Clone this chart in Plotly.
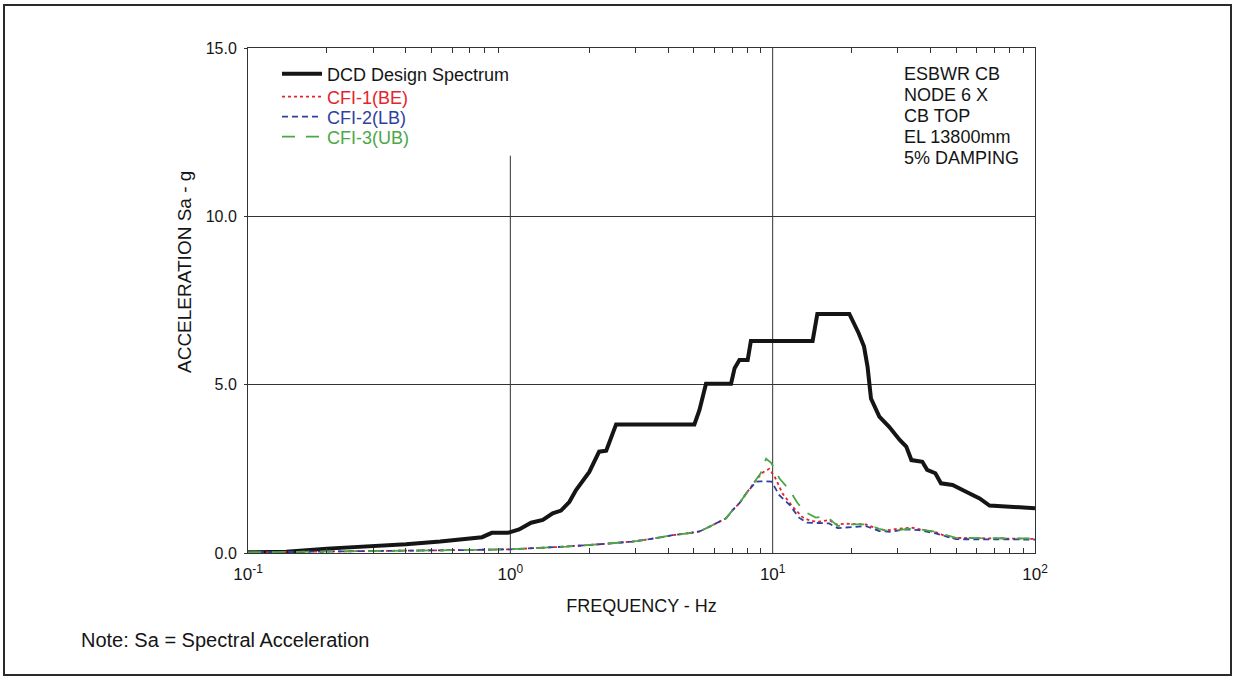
import plotly.graph_objects as go

# ---- Design spectrum (DCD) ----
dcd_freq = [0.1, 0.14, 0.2, 0.3, 0.4, 0.54, 0.66, 0.78, 0.85, 0.98, 1.08, 1.2, 1.33,
            1.45, 1.56, 1.68, 1.78, 1.89, 2.0, 2.18, 2.32, 2.53, 5.03, 5.26, 5.57,
            6.94, 7.16, 7.47, 8.03, 8.26, 14.2, 14.8, 19.6, 21.3, 22.3, 23.0, 23.5,
            23.7, 25.5, 27.8, 30.5, 32.3, 33.8, 37.2, 38.8, 41.7, 43.8, 48.5, 54.6,
            61.5, 67.1, 82.1, 100.0]
dcd_sa = [0.02, 0.04, 0.13, 0.19, 0.26, 0.34, 0.41, 0.47, 0.60, 0.60, 0.70, 0.90, 0.98,
          1.18, 1.26, 1.52, 1.87, 2.17, 2.41, 3.01, 3.04, 3.82, 3.82, 4.25, 5.03,
          5.03, 5.49, 5.73, 5.73, 6.30, 6.30, 7.10, 7.10, 6.52, 6.13, 5.53, 4.94,
          4.59, 4.05, 3.75, 3.36, 3.16, 2.76, 2.71, 2.47, 2.37, 2.07, 2.02, 1.82,
          1.62, 1.41, 1.38, 1.33]

# ---- CFI-1 (best estimate) ----
be_freq = [0.1, 0.2, 0.3, 0.5, 0.7, 1.0, 1.21, 1.63, 2.18, 2.92, 3.39, 3.92, 4.16, 4.8,
           5.26, 5.74, 6.64, 7.05, 7.47, 7.93, 8.65, 9.2, 9.7, 10.2, 10.9, 11.9, 13.0,
           14.0, 15.0, 16.4, 17.5, 19.0, 22.7, 25.5, 28.0, 30.0, 34.0, 38.0, 41.8,
           45.0, 48.0, 60.0, 80.0, 100.0]
be_sa = [0.02, 0.04, 0.05, 0.07, 0.09, 0.11, 0.14, 0.19, 0.26, 0.34, 0.41, 0.50, 0.53,
         0.59, 0.64, 0.78, 1.03, 1.28, 1.48, 1.77, 2.17, 2.40, 2.50, 2.25, 1.77, 1.38,
         1.06, 0.95, 0.93, 0.98, 0.85, 0.87, 0.85, 0.70, 0.68, 0.72, 0.75, 0.68, 0.62,
         0.52, 0.45, 0.44, 0.43, 0.42]

# ---- CFI-2 (lower bound) ----
lb_freq = [0.1, 0.2, 0.3, 0.5, 0.7, 1.0, 1.21, 1.63, 2.18, 2.92, 3.39, 3.92, 4.16, 4.8,
           5.26, 5.74, 6.64, 7.05, 7.47, 7.93, 8.65, 9.0, 9.9, 10.6, 11.6, 12.6, 13.5,
           16.4, 17.7, 20.0, 22.7, 25.5, 28.0, 32.0, 36.0, 41.8, 46.0, 50.0, 100.0]
lb_sa = [0.02, 0.04, 0.05, 0.07, 0.09, 0.11, 0.14, 0.19, 0.26, 0.34, 0.41, 0.50, 0.53,
         0.59, 0.64, 0.78, 1.03, 1.28, 1.48, 1.77, 2.12, 2.13, 2.12, 1.72, 1.43, 1.05,
         0.90, 0.88, 0.74, 0.77, 0.80, 0.65, 0.63, 0.70, 0.68, 0.58, 0.48, 0.41, 0.40]

# ---- CFI-3 (upper bound) ----
ub_freq = [0.1, 0.2, 0.3, 0.5, 0.7, 1.0, 1.21, 1.63, 2.18, 2.92, 3.39, 3.92, 4.16, 4.8,
           5.26, 5.74, 6.64, 7.05, 7.47, 7.93, 8.65, 9.0, 9.44, 9.87, 10.6, 11.6, 12.4,
           13.2, 14.6, 15.5, 16.4, 17.7, 19.0, 22.7, 25.5, 27.5, 30.0, 34.0, 38.0, 41.8,
           46.0, 50.0, 100.0]
ub_sa = [0.02, 0.04, 0.05, 0.07, 0.09, 0.11, 0.14, 0.19, 0.26, 0.34, 0.41, 0.50, 0.53,
         0.59, 0.64, 0.78, 1.03, 1.28, 1.48, 1.77, 2.17, 2.37, 2.80, 2.68, 2.22, 1.87,
         1.50, 1.23, 1.05, 1.08, 1.03, 0.80, 0.85, 0.85, 0.72, 0.65, 0.68, 0.73, 0.68,
         0.63, 0.53, 0.45, 0.43]

x_tick_vals = [0.1, 1, 10, 100]
x_tick_text = ["10<sup>-1</sup>", "10<sup>0</sup>", "10<sup>1</sup>", "10<sup>2</sup>"]
y_tick_vals = [0.0, 5.0, 10.0, 15.0]
info_lines = ["ESBWR CB", "NODE 6 X", "CB TOP", "EL 13800mm", "5% DAMPING"]

RED = "#e3242b"
BLUE = "#2f3fa0"
GREEN = "#4aa846"
INK = "#151515"
FONT = "Liberation Sans, Arial, sans-serif"

minor_vals = [k * 10 ** d for d in (-1, 0, 1) for k in range(2, 10)]

# plot area in pixels: x 248..1035, y 48..553
L, R, T, B = 248, 200, 48, 125
PW, PH = 1235 - L - R, 678 - T - B


def px_x(p):
    return (p - L) / PW


def px_y(p):
    return (678 - B - p) / PH


fig = go.Figure()
fig.add_trace(go.Scatter(x=dcd_freq, y=dcd_sa, mode="lines", name="DCD Design Spectrum",
                         legend="legend", line=dict(color=INK, width=4)))
fig.add_trace(go.Scatter(x=be_freq, y=be_sa, mode="lines", legend="legend2",
                         name=f"<span style='color:{RED}'>CFI-1(BE)</span>",
                         line=dict(color=RED, width=1.8, dash="dot")))
fig.add_trace(go.Scatter(x=lb_freq, y=lb_sa, mode="lines", legend="legend3",
                         name=f"<span style='color:{BLUE}'>CFI-2(LB)</span>",
                         line=dict(color=BLUE, width=1.8, dash="6px,4px")))
fig.add_trace(go.Scatter(x=ub_freq, y=ub_sa, mode="lines", legend="legend4",
                         name=f"<span style='color:{GREEN}'>CFI-3(UB)</span>",
                         line=dict(color=GREEN, width=1.8, dash="13px,11px")))

shapes = [
    # decade grid lines
    dict(type="line", xref="paper", yref="y", x0=1 / 3, x1=1 / 3, y0=0, y1=11.8,
         line=dict(color="#333333", width=1), layer="below"),
    dict(type="line", xref="paper", yref="paper", x0=2 / 3, x1=2 / 3, y0=0, y1=1,
         line=dict(color="#333333", width=1), layer="below"),
    # outer frame of the figure
    dict(type="rect", xref="paper", yref="paper", x0=px_x(4), x1=px_x(1231),
         y0=px_y(675), y1=px_y(5), line=dict(color="#2a2a2a", width=2)),
]

annotations = [
    dict(xref="paper", yref="paper", x=px_x(902), y=px_y(74 + 21 * i), xanchor="left",
         yanchor="middle", text=line, showarrow=False,
         font=dict(family=FONT, size=18, color=INK))
    for i, line in enumerate(info_lines)
]
# vertical axis title
annotations.append(
    dict(xref="paper", yref="paper", x=px_x(184), y=px_y(272), xanchor="center",
         yanchor="middle", text="ACCELERATION Sa - g", textangle=-90, showarrow=False,
         font=dict(family=FONT, size=19, color=INK)))
annotations.append(
    dict(xref="paper", yref="paper", x=px_x(79), y=px_y(640), xanchor="left", yanchor="middle",
         text="Note: Sa = Spectral Acceleration", showarrow=False,
         font=dict(family=FONT, size=20, color=INK)))


def legend_box(row_y):
    return dict(x=px_x(277), y=px_y(row_y), xanchor="left", yanchor="middle",
                bgcolor="rgba(255,255,255,0)", font=dict(family=FONT, size=18, color=INK),
                itemwidth=40, borderwidth=0)


fig.update_layout(
    width=1235, height=678,
    margin=dict(l=L, r=R, t=T, b=B, pad=0),
    paper_bgcolor="white", plot_bgcolor="white",
    font=dict(family=FONT, color=INK),
    showlegend=True,
    legend=legend_box(74), legend2=legend_box(97),
    legend3=legend_box(117), legend4=legend_box(137),
    shapes=shapes, annotations=annotations,
)
fig.update_xaxes(
    type="log", range=[-1, 2], tickvals=x_tick_vals, ticktext=x_tick_text,
    tickfont=dict(family=FONT, size=17, color=INK), ticks="", ticklabelstandoff=6,
    showgrid=False, zeroline=False, showline=True, mirror="ticks",
    linecolor="#333333", linewidth=1,
    minor=dict(tickvals=minor_vals, ticks="inside", ticklen=5, tickcolor="#333333", showgrid=False),
    title=dict(text="FREQUENCY - Hz", font=dict(family=FONT, size=18, color=INK), standoff=15),
)
fig.update_yaxes(
    range=[0, 15], tickvals=y_tick_vals, tickformat=".1f",
    tickfont=dict(family=FONT, size=16, color=INK), ticks="outside", ticklen=3,
    tickcolor="#333333", ticklabelstandoff=4,
    showgrid=True, gridcolor="#333333", gridwidth=1, zeroline=False,
    showline=True, mirror=True, linecolor="#333333", linewidth=1,
)

fig.write_html("out.html")
